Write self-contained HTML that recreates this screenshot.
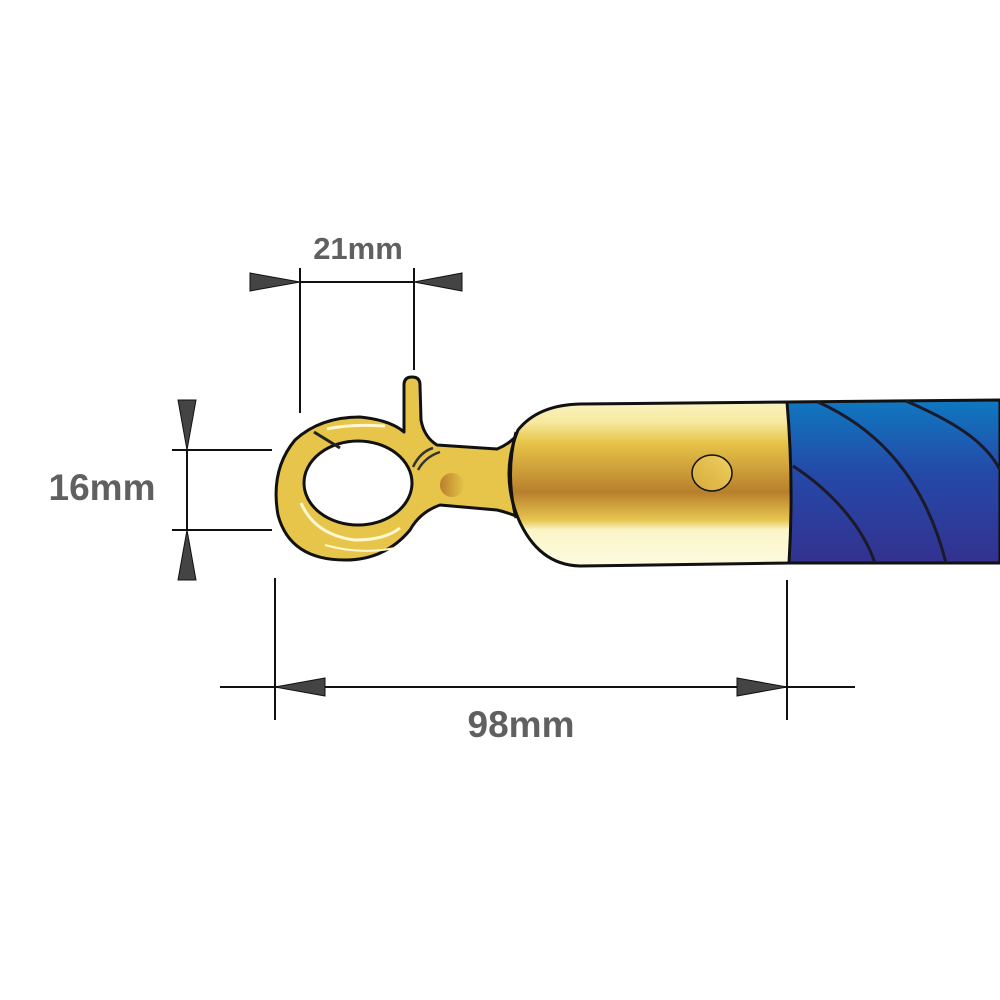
<!DOCTYPE html>
<html><head><meta charset="utf-8"><style>
html,body{margin:0;padding:0;background:#fff;width:1000px;height:1000px;overflow:hidden}
svg{display:block}
text{font-family:"Liberation Sans",Arial,sans-serif;font-weight:bold;fill:#606060}
</style></head><body>
<svg width="1000" height="1000" viewBox="0 0 1000 1000" xmlns="http://www.w3.org/2000/svg">
<defs>
<linearGradient id="fer" x1="0" y1="0" x2="0" y2="1">
<stop offset="0" stop-color="#fbf4c0"/>
<stop offset="0.12" stop-color="#f6e9a0"/>
<stop offset="0.25" stop-color="#e6c448"/>
<stop offset="0.55" stop-color="#b87f2c"/>
<stop offset="0.72" stop-color="#e6c650"/>
<stop offset="0.78" stop-color="#fbf5c8"/>
<stop offset="1" stop-color="#fdfbe0"/>
</linearGradient>
<linearGradient id="rope" x1="0" y1="0" x2="0" y2="1">
<stop offset="0" stop-color="#0f78c0"/>
<stop offset="0.45" stop-color="#2549a8"/>
<stop offset="1" stop-color="#33318f"/>
</linearGradient>
<linearGradient id="dot" x1="0" y1="0" x2="1" y2="0">
<stop offset="0" stop-color="#b87f2c"/>
<stop offset="1" stop-color="#e6c448"/>
</linearGradient>
<linearGradient id="dot2" x1="0" y1="1" x2="1" y2="0">
<stop offset="0" stop-color="#d7a93c"/>
<stop offset="1" stop-color="#efd060"/>
</linearGradient>
</defs>

<path d="M787,402 L1000,400 L1000,563 L789,563 Z" fill="url(#rope)" stroke="#111" stroke-width="3"/>
<g fill="none" stroke="#1a1a2a" stroke-width="3">
<path d="M818,402 C880,430 925,480 946,563"/>
<path d="M906,401 C950,420 985,440 1000,470"/>
<path d="M793,466 C830,490 862,525 875,563"/>
</g>

<path d="M404,432 L404,385 Q404,377 412,377 Q420,377 420,385 L421,420 Q424,437 437,445 L497,449 Q510,444 520,432 L520,518 Q510,513 497,510 L440,505 Q420,512 410,530 Q385,560 345,560 Q290,560 278,515 Q270,470 295,440 Q320,417 360,417 Q390,420 404,432 Z" fill="#e6c54a" stroke="#111" stroke-width="3" stroke-linejoin="round"/>
<ellipse cx="358" cy="483" rx="54" ry="42" fill="#fff" stroke="#111" stroke-width="3"/>
<path d="M314,432 L340,448" stroke="#222" stroke-width="3"/>
<path d="M413,467 Q420,452 433,448 M418,470 Q425,457 440,452" stroke="#333" stroke-width="2.5" fill="none"/>
<path d="M327,429 Q350,424 385,426" stroke="#fff8d0" stroke-width="3" fill="none"/>
<path d="M301,503 Q315,535 355,540 Q385,540 400,528" stroke="#fff8d0" stroke-width="3" fill="none"/>
<path d="M325,545 Q360,555 395,548" stroke="#fff8d0" stroke-width="2" fill="none"/>
<circle cx="452" cy="485" r="12" fill="url(#dot)"/>

<path d="M518,430 Q538,405 580,404 L787,402 Q794,483 789,563 L580,566 Q538,565 518,518 Q500,474 518,430 Z" fill="url(#fer)" stroke="#111" stroke-width="3"/>
<path d="M516,432 Q505,474 516,518" fill="none" stroke="#111" stroke-width="3"/>
<ellipse cx="712" cy="473" rx="20" ry="18" fill="url(#dot2)" stroke="#111" stroke-width="1.5"/>

<g stroke="#111" stroke-width="2">
<line x1="300" y1="268" x2="300" y2="413"/>
<line x1="414" y1="268" x2="414" y2="370"/>
<line x1="300" y1="282" x2="414" y2="282"/>
<line x1="172" y1="450" x2="272" y2="450"/>
<line x1="172" y1="530" x2="272" y2="530"/>
<line x1="187" y1="450" x2="187" y2="530"/>
<line x1="275" y1="578" x2="275" y2="720"/>
<line x1="787" y1="580" x2="787" y2="720"/>
<line x1="220" y1="687" x2="855" y2="687"/>
</g>
<g fill="#444" stroke="#111" stroke-width="1">
<polygon points="250,273 250,291 300,282"/>
<polygon points="462,273 462,291 414,282"/>
<polygon points="178,400 196,400 187,450"/>
<polygon points="178,580 196,580 187,530"/>
<polygon points="325,678 325,696 275,687"/>
<polygon points="737,678 737,696 787,687"/>
</g>
<text x="358" y="259" font-size="31" text-anchor="middle">21mm</text>
<text x="102" y="500" font-size="37" text-anchor="middle">16mm</text>
<text x="521" y="737" font-size="37" text-anchor="middle">98mm</text>
</svg>
</body></html>
